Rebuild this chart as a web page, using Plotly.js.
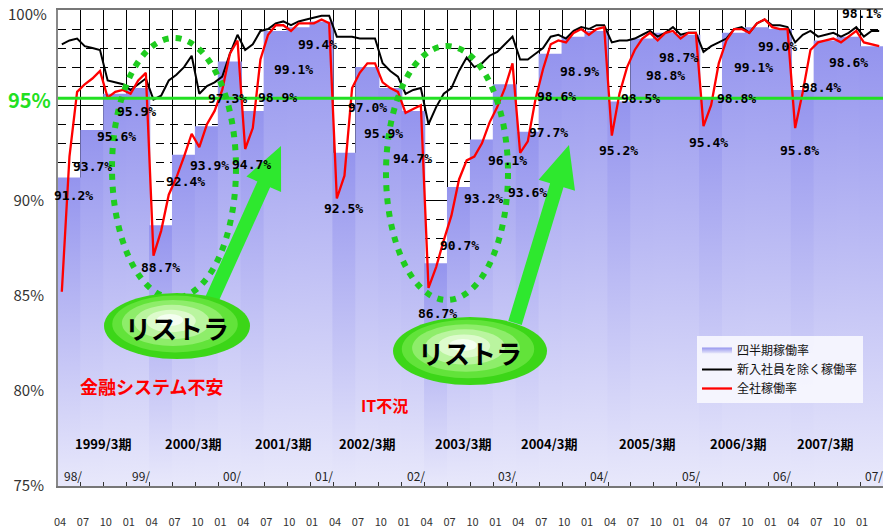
<!DOCTYPE html>
<html><head><meta charset="utf-8">
<script src="https://cdn.plot.ly/plotly-3.0.1.min.js"></script>
<style>html,body{margin:0;padding:0;background:#fff}#chart{width:890px;height:530px}</style>
</head><body><div id="chart"></div>
<script>
// ---------------- DATA ----------------
const quarterTickLabels = ['04','07','10','01'];
const yearLabels = ['98/','99/','00/','01/','02/','03/','04/','05/','06/','07/'];
const fiscalLabels = ['1999/3期','2000/3期','2001/3期','2002/3期','2003/3期','2004/3期','2005/3期','2006/3期','2007/3期'];
const yTickValues = [75, 80, 85, 90, 95, 100];
const yTickLabels = ['75%', '80%', '85%', '90%', '95%', '100%'];
// quarterly rate (四半期稼働率), 1998/04 .. 2007/01 quarters
const quarterlyRate = [
  91.2, 93.7, 95.6, 95.9,
  88.7, 92.4, 93.9, 97.3,
  94.7, 98.9, 99.1, 99.4,
  92.5, 97.0, 95.9, 94.7,
  86.7, 90.7, 93.2, 96.1,
  93.6, 97.7, 98.6, 98.9,
  95.2, 98.5, 98.8, 98.7,
  95.4, 98.8, 99.1, 99.0,
  95.8, 98.4, 98.6, 98.1
];
// monthly, 全社稼働率 (red)
const totalRate = [
  85.2, 92.3, 95.7, 96.1, 96.4, 96.8, 95.4, 95.7, 95.8, 95.6, 96.3, 96.7,
  87.1, 88.4, 90.3, 91.2, 92.3, 93.5, 92.8, 94.0, 94.7, 95.8, 97.7, 98.4,
  92.7, 93.8, 97.4, 98.7, 99.2, 99.2, 98.9, 99.3, 99.3, 99.3, 99.5, 99.3,
  90.1, 91.3, 95.9, 96.7, 97.2, 97.2, 96.2, 95.9, 95.7, 94.6, 94.8, 95.0,
  85.4, 86.5, 87.9, 89.2, 91.1, 92.1, 92.3, 93.0, 94.1, 94.9, 95.9, 97.2,
  92.5, 93.1, 95.3, 96.9, 98.2, 98.4, 98.3, 98.8, 99.0, 98.7, 99.0, 99.1,
  93.4, 95.6, 97.0, 97.9, 98.5, 98.8, 98.4, 98.8, 98.9, 98.5, 98.8, 98.8,
  93.9, 95.0, 97.2, 98.4, 99.0, 99.0, 98.8, 99.3, 99.5, 99.1, 99.0, 99.0,
  93.8, 95.7, 97.9, 98.3, 98.4, 98.5, 98.3, 98.6, 98.9, 98.3, 98.2, 98.1
];
// monthly, 新入社員を除く稼働率 (black)
const exNewRate = [
  98.2, 98.4, 98.5, 98.1, 98.0, 97.9, 96.3, 96.2, 96.1, 95.8, 96.1, 96.4,
  95.3, 95.5, 96.3, 96.6, 97.0, 97.6, 95.6, 96.0, 96.2, 96.5, 97.7, 98.7,
  97.9, 98.2, 98.9, 99.0, 99.3, 99.4, 99.2, 99.4, 99.5, 99.6, 99.7, 99.7,
  98.6, 98.6, 98.6, 98.5, 98.5, 98.5, 97.2, 96.8, 96.5, 95.6, 95.8, 95.9,
  94.0, 94.9, 95.6, 95.9, 96.8, 97.5, 97.0, 97.2, 97.6, 97.8, 98.2, 98.6,
  97.4, 97.4, 97.7, 98.0, 98.6, 98.7, 98.5, 98.9, 99.1, 99.0, 99.2, 99.2,
  98.3, 98.4, 98.4, 98.5, 98.7, 98.9, 98.6, 98.8, 99.1, 98.7, 98.8, 98.8,
  97.8, 98.1, 98.3, 98.5, 99.0, 99.1, 98.8, 99.3, 99.5, 99.2, 99.2, 99.1,
  98.3, 98.7, 98.9, 98.6, 98.7, 98.8, 98.6, 98.8, 99.1, 98.6, 98.9, 98.9
];
const seriesNames = ['四半期稼働率','新入社員を除く稼働率','全社稼働率'];
const referenceLevel = 95;

// ---------------- STYLE / LAYOUT ----------------
const JP = "'Noto Sans CJK JP', 'Noto Sans', sans-serif";
const MONO = "'DejaVu Sans Mono', monospace";
const M = {l:58, r:7, t:10, b:44};
const PW = 890 - M.l - M.r, PH = 530 - M.t - M.b;
const fx = x => (x - M.l) / PW;           // pixel -> paper
const fy = y => (530 - M.b - y) / PH;
const yMin = 75, yMax = 100;
const green = '#22e022';
const barOverlap = 0.08;                   // hides anti-alias seams between adjacent bars

// label pixel offsets [dx, dy] relative to bar top centre
const labelShift = [
  [4,18],[0,37],[1,43],[-2,23],[-1,42],[1,27],[3,39],[-2,37],
  [-1,54],[2,67],[-5,42],[-4,23],[-1,56],[0,40],[-7,45],[-1,48],
  [1,50],[0,58],[2,59],[3,76],[0,61],[-2,79],[-17,60],[-17,41],
  [-1,49],[-2,60],[0,43],[-10,23],[-3,45],[2,66],[-3,40],[-2,17],
  [-3,61],[-4,47],[0,26],[-10,-33]
];
const fiscalLabelPx = [103,193,283,367,463,549,647,738,825];

const traces = [];
quarterlyRate.forEach((v, q) => {
  const x0 = q * 3 - (q ? barOverlap : 0), x1 = q * 3 + 3 + barOverlap;
  traces.push({
    type: 'scatter', mode: 'none', name: seriesNames[0], legendgroup: 'q',
    showlegend: q === 0, hoverinfo: 'skip',
    x: [x0, x0, x1, x1], y: [yMin, v, v, yMin], fill: 'toself',
    fillcolor: '#a8a8f2',
    fillgradient: {type: 'vertical', start: yMin, stop: v,
      colorscale: [[0, '#e8e8fb'], [1, '#9494ee']]},
    line: {width: 0}
  });
});
const monthX = totalRate.map((_, i) => i + 0.5);
traces.push({type:'scatter', mode:'lines', name: seriesNames[1], x: monthX, y: exNewRate,
  line:{color:'#000', width:2}, hoverinfo:'skip'});
traces.push({type:'scatter', mode:'lines', name: seriesNames[2], x: monthX, y: totalRate,
  line:{color:'#ff0000', width:2.3}, hoverinfo:'skip'});

const annotations = [];
const paperText = (px, py, text, font) => ({x: fx(px), y: fy(py), xref:'paper', yref:'paper',
  xanchor:'center', yanchor:'middle', showarrow:false, text, font});
quarterlyRate.forEach((v, q) => {
  annotations.push({x: q*3 + 1.5, y: v, xref:'x', yref:'y', showarrow:false,
    xanchor:'center', yanchor:'middle',
    xshift: labelShift[q][0], yshift: -labelShift[q][1],
    text: '<b>' + v.toFixed(1) + '%</b>',
    font:{family: MONO, size: 13, color:'#000'}});
});
fiscalLabels.forEach((t, i) => {
  annotations.push(paperText(fiscalLabelPx[i], 443, '<b>' + t + '</b>', {family: JP, size: 13, color:'#000'}));
});
yearLabels.forEach((t, i) => {
  annotations.push({x: i === 0 ? 0 : i * 12, y: fy(475), xref:'x', yref:'paper',
    xanchor: i === 0 ? 'left' : 'right', yanchor:'middle', xshift: i === 0 ? 4 : 2, showarrow:false,
    text: t, font:{family: JP, size: 12, color:'#222'}});
});
// top tick label drawn as annotation so it is not clipped by the 10px top margin
annotations.push({x: 0, y: yTickValues[5], xref:'paper', yref:'y', xanchor:'right', yanchor:'middle',
  xshift: -9, yshift: -3, showarrow:false, text: yTickLabels[5],
  font:{family: JP, size: 15, color:'#333'}});
annotations.push(paperText(29, 99, '<b>' + yTickLabels[4] + '</b>', {family: JP, size: 20, color: green}));
annotations.push(paperText(151, 386, '<b>金融システム不安</b>', {family: JP, size: 18, color:'#ff0000'}));
annotations.push(paperText(384, 405, '<b>IT不況</b>', {family: JP, size: 16, color:'#ff0000'}));

// shapes
const shapes = [];
shapes.push({type:'line', xref:'paper', yref:'y', x0:0, x1:1, y0: referenceLevel + 0.37, y1: referenceLevel + 0.37,
  line:{color: green, width:3}, layer:'above'});
// dotted ellipses
[[174,168,62,130],[447,173,61,127]].forEach(([cx,cy,rx,ry]) => {
  shapes.push({type:'circle', xref:'paper', yref:'paper', x0: fx(cx-rx), x1: fx(cx+rx),
    y0: fy(cy+ry), y1: fy(cy-ry), line:{color:'#1fcc1f', width:6, dash:'6px,7px'},
    fillcolor:'rgba(0,0,0,0)', layer:'above'});
});
// arrows
function arrowPath(tail, tip, sw, hw, hl) {
  const dx = tip[0]-tail[0], dy = tip[1]-tail[1], L = Math.hypot(dx, dy);
  const ux = dx/L, uy = dy/L, nx = -uy, ny = ux;
  const bx = tip[0]-ux*hl, by = tip[1]-uy*hl;
  const pts = [[tail[0]+nx*sw/2, tail[1]+ny*sw/2],[bx+nx*sw/2, by+ny*sw/2],[bx+nx*hw/2, by+ny*hw/2],
    tip,[bx-nx*hw/2, by-ny*hw/2],[bx-nx*sw/2, by-ny*sw/2],[tail[0]-nx*sw/2, tail[1]-ny*sw/2]];
  return 'M' + pts.map(p => fx(p[0]).toFixed(5) + ',' + fy(p[1]).toFixed(5)).join(' L') + ' Z';
}
[[[208,308],[281,146]],[[515,323],[569,145]]].forEach(([tail, tip]) => {
  shapes.push({type:'path', xref:'paper', yref:'paper', path: arrowPath(tail, tip, 14, 38, 42),
    fillcolor:'#2ee82e', line:{width:0}, layer:'above'});
});
// gradient ellipses with "リストラ"
const blobLayers = [[1.00,'#3cd618',0,0],[0.86,'#62e33a',-2,-2],[0.70,'#8eed6a',-4,-3],
  [0.52,'#baf59f',-5,-4],[0.34,'#ddfbcc',-6,-5],[0.18,'#f4fff0',-7,-6]];
[[177,326,73,33],[470,351,77,34]].forEach(([cx,cy,rx,ry]) => {
  blobLayers.forEach(([s,c,ox,oy]) => {
    const x = cx + ox, y = cy + oy;
    shapes.push({type:'circle', xref:'paper', yref:'paper', x0: fx(x-rx*s), x1: fx(x+rx*s),
      y0: fy(y+ry*s), y1: fy(y-ry*s), fillcolor: c, line:{width:0}, layer:'above'});
  });
  annotations.push(paperText(cx, cy + 1, '<b>リストラ</b>', {family: JP, size: 26, color:'#000'}));
});

const quarterTicks = quarterlyRate.map((_, q) => q * 3);
const layout = {
  width: 890, height: 530, margin: {l:M.l, r:M.r, t:M.t, b:M.b, pad:0},
  paper_bgcolor:'#fff', plot_bgcolor:'#fff', showlegend: true,
  font:{family: JP, color:'#333'},
  xaxis: {range:[0, totalRate.length], tickmode:'array', tickvals: quarterTicks,
    ticktext: quarterTicks.map((_, i) => quarterTickLabels[i % 4]),
    ticks:'inside', ticklen:4, tickcolor:'#333', tickwidth:1,
    tickfont:{family: JP, size: 11, color:'#333'}, ticklabelstandoff: 25, ticklabelshift: 2,
    showgrid:true, gridcolor:'#000', gridwidth:1, zeroline:false,
    showline:true, linecolor:'#777', linewidth:2, mirror:true, fixedrange:true},
  yaxis: {range:[yMin, yMax], tickmode:'array', tickvals: yTickValues,
    ticktext: yTickLabels.map((t, i) => (i >= 4 ? '' : t)), ticks:'', ticklabelstandoff: 9,
    tickfont:{family: JP, size: 15, color:'#333'},
    showgrid:true, gridcolor:'#000', gridwidth:1, zeroline:false,
    minor:{tickmode:'linear', tick0:75, dtick:1, showgrid:true, gridcolor:'#000', gridwidth:1, griddash:'8px,6px', ticks:''},
    showline:true, linecolor:'#888', linewidth:2, fixedrange:true},
  legend: {x: fx(697), y: fy(336), xanchor:'left', yanchor:'top', bgcolor:'rgba(250,250,255,0.85)',
    borderwidth:0, font:{family: JP, size: 12, color:'#111'}, itemwidth: 30, tracegroupgap: 0,
    traceorder:'normal'},
  annotations, shapes
};
Plotly.newPlot('chart', traces, layout, {displayModeBar:false, staticPlot:true});
</script>
</body></html>
